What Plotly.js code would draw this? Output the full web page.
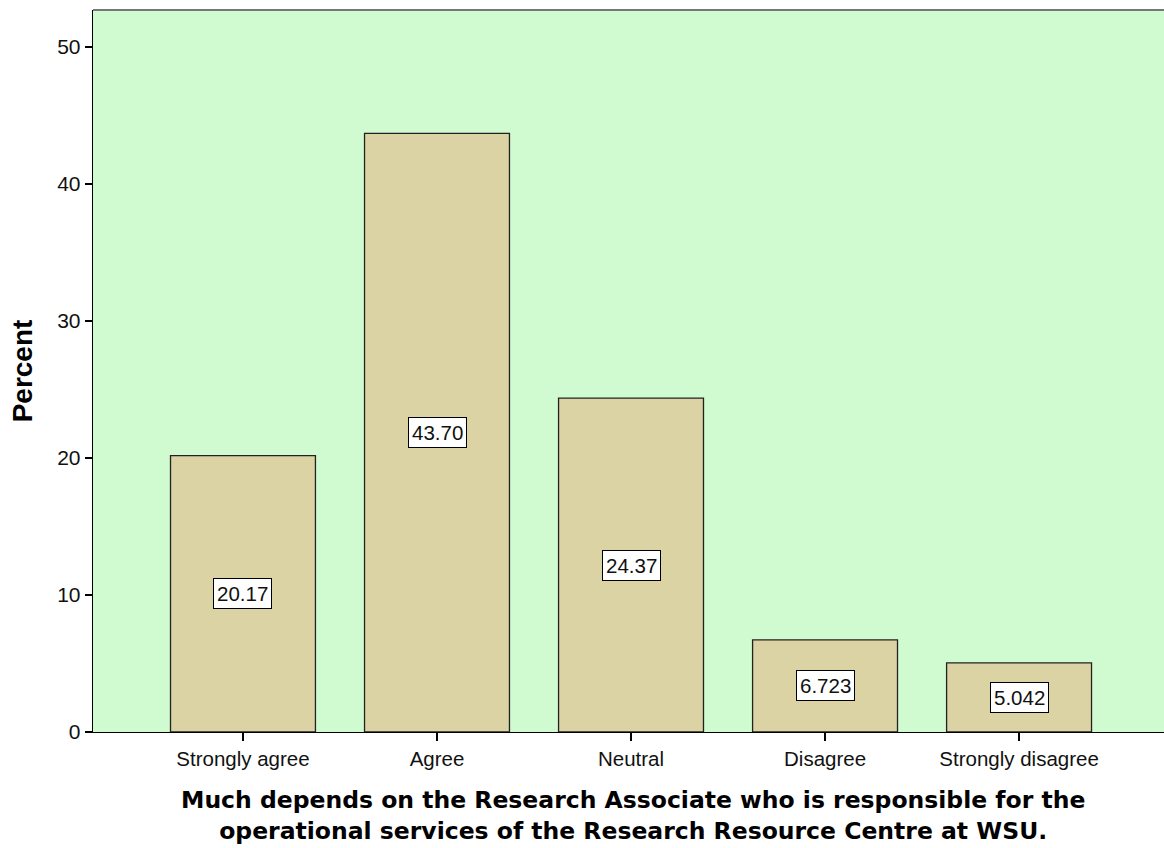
<!DOCTYPE html>
<html><head><meta charset="utf-8">
<script src="https://cdn.plot.ly/plotly-3.0.1.min.js"></script>
<style>body{margin:0;background:#fff}#chart{width:1164px;height:848px}</style>
</head><body><div id="chart"></div>
<script>
const categories = ["Strongly agree","Agree","Neutral","Disagree","Strongly disagree"];
const percents = [20.17, 43.70, 24.37, 6.723, 5.042];
const labels = ["20.17","43.70","24.37","6.723","5.042"];
const yTicks = [0,10,20,30,40,50];
const xTitleLines = ["Much depends on the Research Associate who is responsible for the",
                     "operational services of the Research Resource Centre at WSU."];

const idx = categories.map((c,i)=>i);
const trace = {
  type:'bar', x: idx, y: percents, width: 0.747,
  marker:{color:'#DBD3A3', line:{color:'#222', width:1.3}},
  hoverinfo:'skip'
};
const annotations = idx.map(i=>({
  x:i, y:percents[i]/2, xref:'x', yref:'y', text:labels[i], showarrow:false,
  bgcolor:'#fff', bordercolor:'#000', borderwidth:1, borderpad:3,
  font:{family:'Liberation Sans, Arial, sans-serif', size:20.5, color:'#111'}
}));
annotations.push({
  xref:'paper', yref:'paper', x:0.504, y:-0.1163, xanchor:'center', yanchor:'middle',
  text:'<b>'+xTitleLines.join('<br>')+'</b>', showarrow:false, align:'center',
  font:{family:'DejaVu Sans, Liberation Sans, sans-serif', size:23.5, color:'#000'}
});
const layout = {
  width:1164, height:848,
  margin:{l:93, r:0, t:10, b:116},
  paper_bgcolor:'#fff', plot_bgcolor:'#D0FAD0',
  showlegend:false,
  font:{family:'Liberation Sans, Arial, sans-serif', size:20.5, color:'#111'},
  xaxis:{
    range:[-0.773, 4.747], tickvals:idx, ticktext:categories,
    ticks:'outside', ticklen:8, tickcolor:'#000', tickwidth:1.3,
    showline:true, linecolor:'#000', linewidth:1.3, showgrid:false, zeroline:false,
    tickfont:{size:20.5}
  },
  yaxis:{
    range:[0, 52.7], tickvals:yTicks,
    ticks:'outside', ticklen:7, tickcolor:'#000', tickwidth:1.3,
    showline:true, linecolor:'#000', linewidth:1.3, showgrid:false, zeroline:false,
    tickfont:{size:21},
    title:{text:'<b>Percent</b>', font:{size:28, color:'#000'}, standoff:16}
  },
  annotations: annotations,
  shapes:[{type:'line', xref:'paper', yref:'paper', x0:0, x1:1, y0:1, y1:1, line:{color:'#777', width:2}}]
};
Plotly.newPlot('chart',[trace],layout,{displayModeBar:false, staticPlot:true});
</script></body></html>
